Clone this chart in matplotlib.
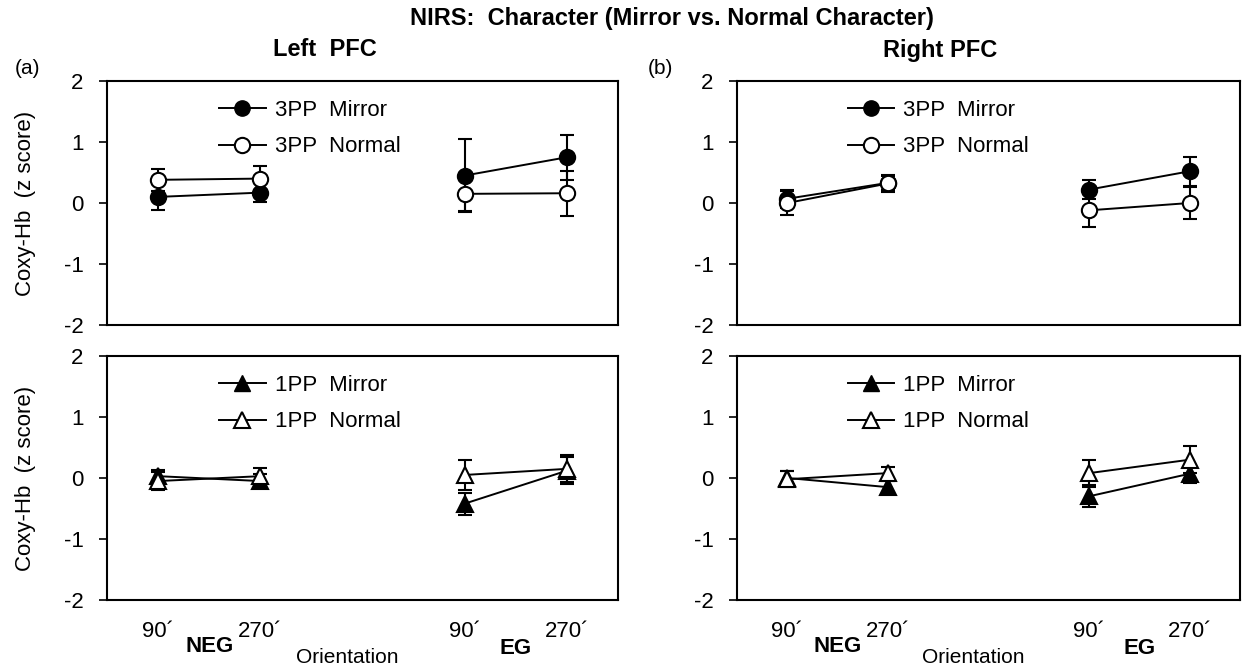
import matplotlib
matplotlib.use('Agg')
import matplotlib.pyplot as plt
from matplotlib.lines import Line2D
import numpy as np

plt.rcParams['font.family'] = ['Liberation Sans', 'DejaVu Sans']
plt.rcParams['axes.unicode_minus'] = False

# x positions of the four conditions (NEG 90, NEG 270, EG 90, EG 270)
x_pos = [0.5, 1.5, 3.5, 4.5]
tick_labels = ['90\u00b4', '270\u00b4', '90\u00b4', '270\u00b4']

# 3PP (top row)
left_3pp_mirror = [0.10, 0.17, 0.45, 0.75]
left_3pp_mirror_err = [0.21, 0.16, 0.60, 0.37]
left_3pp_normal = [0.38, 0.40, 0.15, 0.16]
left_3pp_normal_err = [0.18, 0.20, 0.28, 0.37]
right_3pp_mirror = [0.07, 0.33, 0.22, 0.52]
right_3pp_mirror_err = [0.15, 0.12, 0.15, 0.24]
right_3pp_normal = [0.00, 0.32, -0.12, 0.00]
right_3pp_normal_err = [0.20, 0.14, 0.27, 0.26]

# 1PP (bottom row)
left_1pp_mirror = [0.03, -0.05, -0.42, 0.12]
left_1pp_mirror_err = [0.10, 0.12, 0.18, 0.22]
left_1pp_normal = [-0.05, 0.03, 0.05, 0.15]
left_1pp_normal_err = [0.15, 0.13, 0.25, 0.22]
right_1pp_mirror = [0.00, -0.15, -0.30, 0.07]
right_1pp_mirror_err = [0.12, 0.10, 0.18, 0.15]
right_1pp_normal = [-0.02, 0.08, 0.08, 0.30]
right_1pp_normal_err = [0.13, 0.10, 0.22, 0.22]

fig = plt.figure(figsize=(12.44, 6.72), dpi=100)

W, H = 1244.0, 672.0
def make_ax(x0, x1, ytop, ybot):
    return fig.add_axes([x0 / W, 1 - ybot / H, (x1 - x0) / W, (ybot - ytop) / H])

ax_tl = make_ax(107, 618, 81, 325)
ax_tr = make_ax(737, 1240, 81, 325)
ax_bl = make_ax(107, 618, 356, 600)
ax_br = make_ax(737, 1240, 356, 600)

err_kw = dict(color='black', markersize=11, markeredgecolor='black', markeredgewidth=1.5,
              lw=1.4, capsize=5, capthick=1.5, elinewidth=1.5)


def draw_pair(ax, mirror, mirror_err, normal, normal_err, marker, prefix):
    for seg in (slice(0, 2), slice(2, 4)):
        ax.errorbar(x_pos[seg], mirror[seg], yerr=mirror_err[seg], marker=marker,
                    markerfacecolor='black', zorder=3, **err_kw)
        ax.errorbar(x_pos[seg], normal[seg], yerr=normal_err[seg], marker=marker,
                    markerfacecolor='white', zorder=4, **err_kw)

    ax.set_xlim(0, 5)
    ax.set_ylim(-2, 2)
    ax.set_yticks([-2, -1, 0, 1, 2])
    ax.set_yticklabels(['-2', '-1', '0', '1', '2'])
    ax.tick_params(axis='y', direction='out', length=6, width=1.2, labelsize=16, pad=11)
    ax.tick_params(axis='x', length=0)
    for s in ax.spines.values():
        s.set_linewidth(1.5)

    handles = [
        Line2D([], [], color='black', lw=1.4, marker=marker, markersize=11,
               markerfacecolor='black', markeredgecolor='black'),
        Line2D([], [], color='black', lw=1.4, marker=marker, markersize=11,
               markerfacecolor='white', markeredgecolor='black', markeredgewidth=1.5),
    ]
    ax.legend(handles, [prefix + '  Mirror', prefix + '  Normal'], loc='upper left',
              bbox_to_anchor=(0.18, 1.005), frameon=False, fontsize=16,
              handlelength=2.1, handletextpad=0.4, labelspacing=0.7)


draw_pair(ax_tl, left_3pp_mirror, left_3pp_mirror_err, left_3pp_normal, left_3pp_normal_err, 'o', '3PP')
draw_pair(ax_tr, right_3pp_mirror, right_3pp_mirror_err, right_3pp_normal, right_3pp_normal_err, 'o', '3PP')
draw_pair(ax_bl, left_1pp_mirror, left_1pp_mirror_err, left_1pp_normal, left_1pp_normal_err, '^', '1PP')
draw_pair(ax_br, right_1pp_mirror, right_1pp_mirror_err, right_1pp_normal, right_1pp_normal_err, '^', '1PP')

for ax in (ax_tl, ax_tr):
    ax.set_xticks([])

for ax in (ax_bl, ax_br):
    ax.set_xticks(x_pos)
    ax.set_xticklabels(tick_labels, fontsize=16)
    ax.tick_params(axis='x', pad=15)
    ax.text(1.0, -0.19, 'NEG', transform=ax.get_xaxis_transform(), ha='center', va='center',
            fontsize=16, fontweight='bold')
    ax.text(4.0, -0.2, 'EG', transform=ax.get_xaxis_transform(), ha='center', va='center',
            fontsize=16, fontweight='bold')
    ax.text(2.35, -0.235, 'Orientation', transform=ax.get_xaxis_transform(), ha='center',
            va='center', fontsize=15)

for ax in (ax_tl, ax_bl):
    ax.set_ylabel('Coxy-Hb  (z score)', fontsize=16, labelpad=20)

fig.text(672 / W, 1 - 18 / H, 'NIRS:  Character (Mirror vs. Normal Character)',
         ha='center', va='center', fontsize=17, fontweight='bold')
fig.text(325 / W, 1 - 50 / H, 'Left  PFC', ha='center', va='center', fontsize=17, fontweight='bold')
fig.text(940 / W, 1 - 50 / H, 'Right PFC', ha='center', va='center', fontsize=17, fontweight='bold')
fig.text(28 / W, 1 - 68 / H, '(a)', ha='center', va='center', fontsize=15)
fig.text(660 / W, 1 - 68 / H, '(b)', ha='center', va='center', fontsize=15)

fig.savefig('out.png', dpi=100)
